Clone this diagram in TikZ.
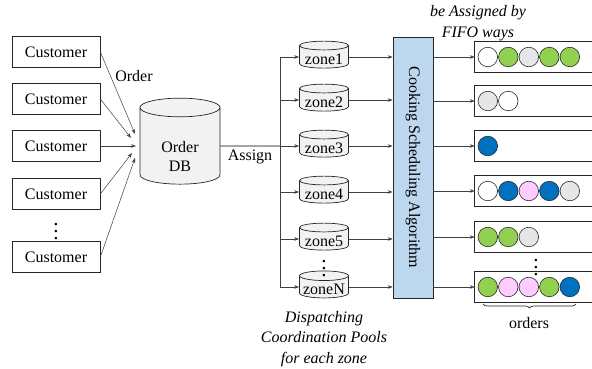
\documentclass[tikz,border=0pt]{standalone}
\usepackage{fontspec}
\setmainfont{Liberation Serif}
\usetikzlibrary{shapes.geometric, arrows.meta, positioning, calc, decorations.pathreplacing}

\begin{document}
\begin{tikzpicture}[x=1pt, y=-1pt, font=\fontsize{16}{19}\selectfont,
    custbox/.style={draw=black!85, line width=0.7pt, fill=white, minimum width=88pt, minimum height=31pt, inner sep=0pt},
    dbcyl/.style={cylinder, shape border rotate=90, draw=black!85, line width=0.7pt, fill=gray!10, inner sep=0pt, align=center},
    link/.style={draw=black!75, line width=0.5pt, -{Stealth[length=5pt, width=3.5pt]}},
    ordbox/.style={minimum width=118pt, minimum height=31pt, inner sep=0pt},
    ball/.style={circle, draw=black!85, line width=0.6pt, minimum size=19.5pt, inner sep=0pt},
    moredots/.style={font=\fontsize{12}{12}\selectfont, inner sep=0pt, scale=1.75},
    italbl/.style={font=\fontsize{16}{20.5}\selectfont\itshape, align=center}]
    % Farben
    \definecolor{ordgreen}{RGB}{146,208,80}
    \definecolor{ordblue}{RGB}{0,112,192}
    \definecolor{ordpink}{RGB}{255,204,255}
    \definecolor{ordgrey}{RGB}{231,230,230}
    \definecolor{algoblue}{RGB}{189,215,238}

    \useasboundingbox (0,0) rectangle (592,369);

    % Kunden
    \foreach \i/\y in {1/52, 2/99, 3/146, 4/194, 5/257} {
        \node[custbox] (cust\i) at (56,\y) {Customer};
    }
    \node[moredots] (custdots) at (56,226) {$\vdots$};

    % Bestelldatenbank
    \node[dbcyl, aspect=0.5, minimum width=80pt, minimum height=86pt] (db) at (180,146)
        {\raisebox{-12pt}[\height][\depth]{\begin{tabular}{@{}c@{}}Order\\DB\end{tabular}}};
    \foreach \i/\x/\y in {1/135/134, 2/131/138, 3/136/146, 4/132/153, 5/135/158} {
        \coordinate (in\i) at (\x,\y);
        \draw[link] (cust\i.east) -- (in\i);
    }
    \node (ordlbl) at (134,76) {Order};

    % Verteilung auf die Zonen
    \coordinate (bus) at (280,146);
    \draw[black, line width=0.9pt] (db.east) -- (bus);
    \node (assignlbl) at (250,157) {Assign};
    \foreach \i/\y in {1/57, 2/100, 3/146, 4/192, 5/239, N/287} {
        \node[dbcyl, aspect=0.23, minimum width=49pt, minimum height=27pt] (zone\i) at (324,\y)
            {\raisebox{-2pt}[\height][\depth]{zone\i}};
        \draw[link] (bus |- zone\i.west) -- (zone\i.west);
    }
    \draw[black!75, line width=0.5pt] (bus |- zone1.west) -- (bus |- zoneN.west);
    \node[moredots] (zonedots) at (324,263) {$\vdots$};
    \node[italbl] (poollbl) at (324,339) {Dispatching\\Coordination Pools\\for each zone};

    % Algorithmus
    \node[draw=black!85, line width=0.7pt, fill=algoblue, minimum width=40pt, minimum height=261pt, inner sep=0pt] (algo) at (413,167.5) {};
    \node[rotate=-90] (algotext) at (algo.center) {Cooking Scheduling Algorithm};
    \foreach \i in {1,2,3,4,5,N} {
        \draw[link] (zone\i.east) -- (algo.west |- zone\i.east);
    }

    % Warteschlangen mit Bestellungen
    \foreach \i/\y in {1/57, 2/101, 3/146, 4/191, 5/237, 6/287} {
        \node[ordbox] (q\i) at (534,\y) {};
        \draw[black!85, line width=0.7pt] (q\i.north east) -- (q\i.north west) -- (q\i.south west) -- (q\i.south east);
        \draw[link] (algo.east |- q\i.west) -- (q\i.west);
    }
    \foreach \r/\cols in {1/{white,ordgreen,ordgrey,ordgreen,ordgreen}, 2/{ordgrey,white}, 3/{ordblue},
                          4/{white,ordblue,ordpink,ordblue,ordgrey}, 5/{ordgreen,ordgreen,ordgrey},
                          6/{ordgreen,ordpink,ordpink,ordgreen,ordblue}} {
        \foreach \c [count=\k from 0] in \cols {
            \node[ball, fill=\c] (b\r\k) at ($(q\r.west)+(13+20.5*\k,0)$) {};
        }
    }
    \node[moredots] (qdots) at (536,262) {$\vdots$};
    \draw[black!85, line width=0.7pt, decorate, decoration={brace, mirror, amplitude=4pt}] (483,304) -- (576,304);
    \node (orderslbl) at (529,323) {orders};
    \node[italbl] (fifolbl) at (478,23) {be Assigned by\\FIFO ways};
\end{tikzpicture}
\end{document}
